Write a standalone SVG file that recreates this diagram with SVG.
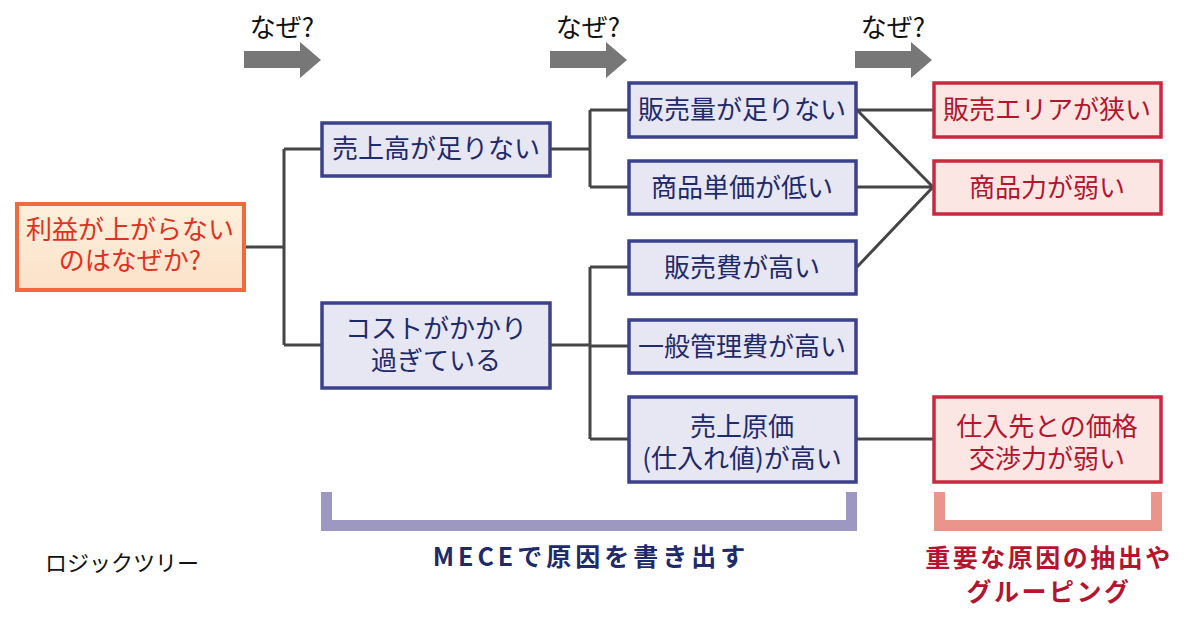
<svg xmlns="http://www.w3.org/2000/svg" width="1200" height="621" viewBox="0 0 1200 621">
<defs>
<style>
text{font-family:"Noto Sans CJK JP","Noto Sans",sans-serif;text-anchor:middle}
.b1{fill:#e7e6f3;stroke:#3c418e;stroke-width:3.5}
.t1{fill:#1f2a6b;font-size:26px}
.b3{fill:#fce6e3;stroke:#c9283e;stroke-width:3.5}
.t3{fill:#b3152f;font-size:26px}
.root{stroke:#ef6a3d;stroke-width:4}
.tr{fill:#e0321f;font-size:26px}
.ln{fill:none;stroke:#454545;stroke-width:3}
.arr{fill:#777}
.why{fill:#111;font-size:26px}
</style>
<linearGradient id="rg" x1="0" y1="0" x2="0" y2="1">
<stop offset="0" stop-color="#fdf0dc"/>
<stop offset="1" stop-color="#fce1c9"/>
</linearGradient>
</defs>

<g id="why-arrows">
<text class="why" x="282" y="37">なぜ?</text>
<path class="arr" d="M244 51H300V42L321 60L300 78V68H244Z"/>
<text class="why" x="588" y="37">なぜ?</text>
<path class="arr" d="M550 51H606V42L627 60L606 78V68H550Z"/>
<text class="why" x="893" y="37">なぜ?</text>
<path class="arr" d="M855 51H911V42L932 60L911 78V68H855Z"/>
</g>

<g id="connectors">
<path class="ln" d="M245 247H284M284 149V345M284 149H321M284 345H321"/>
<path class="ln" d="M551 149H590M590 110V187M590 110H628M590 187H628"/>
<path class="ln" d="M551 345H590M590 267V439M590 267H628M590 346H628M590 439H628"/>
<path class="ln" d="M857 110H933M857 110L933 187M857 187H933M857 267L933 187M857 439H933"/>
</g>

<g id="root">
<rect class="root" x="17" y="204" width="227" height="86" fill="url(#rg)"/>
<text class="tr" x="130" y="239">利益が上がらない</text>
<text class="tr" x="130" y="270">のはなぜか?</text>
</g>

<g id="n-sales">
<rect class="b1" x="322" y="123" width="228" height="53"/>
<text class="t1" x="436" y="158">売上高が足りない</text>
</g>
<g id="n-cost">
<rect class="b1" x="322" y="303" width="228" height="85"/>
<text class="t1" x="436" y="338">コストがかかり</text>
<text class="t1" x="436" y="370">過ぎている</text>
</g>

<g id="n-volume">
<rect class="b1" x="629" y="83" width="227" height="54"/>
<text class="t1" x="742" y="119">販売量が足りない</text>
</g>
<g id="n-price">
<rect class="b1" x="629" y="161" width="227" height="53"/>
<text class="t1" x="742" y="197">商品単価が低い</text>
</g>
<g id="n-selling">
<rect class="b1" x="629" y="241" width="227" height="53"/>
<text class="t1" x="742" y="277">販売費が高い</text>
</g>
<g id="n-admin">
<rect class="b1" x="629" y="320" width="227" height="53"/>
<text class="t1" x="742" y="356">一般管理費が高い</text>
</g>
<g id="n-cogs">
<rect class="b1" x="629" y="397" width="227" height="85"/>
<text class="t1" x="742" y="436">売上原価</text>
<text class="t1" x="742" y="468">(仕入れ値)が高い</text>
</g>

<g id="n-area">
<rect class="b3" x="934" y="83" width="227" height="54"/>
<text class="t3" x="1047" y="119">販売エリアが狭い</text>
</g>
<g id="n-product">
<rect class="b3" x="934" y="161" width="227" height="53"/>
<text class="t3" x="1047" y="197">商品力が弱い</text>
</g>
<g id="n-supplier">
<rect class="b3" x="934" y="397" width="227" height="85"/>
<text class="t3" x="1047" y="436">仕入先との価格</text>
<text class="t3" x="1047" y="468">交渉力が弱い</text>
</g>

<g id="brackets">
<path d="M321 492H332V520H846V492H857V531H321Z" fill="#9d98c2"/>
<path d="M934 492H945V520H1151V492H1162V531H934Z" fill="#ea958c"/>
</g>

<g id="labels">
<text x="122" y="571" style="fill:#111;font-size:22px">ロジックツリー</text>
<text x="591" y="566" style="fill:#1f2a6b;font-size:25px;font-weight:bold;letter-spacing:4px">MECEで原因を書き出す</text>
<text x="1049" y="567" style="fill:#b3152f;font-size:25px;font-weight:bold;letter-spacing:2.5px">重要な原因の抽出や</text>
<text x="1049" y="601" style="fill:#b3152f;font-size:25px;font-weight:bold;letter-spacing:2.5px">グルーピング</text>
</g>
</svg>
